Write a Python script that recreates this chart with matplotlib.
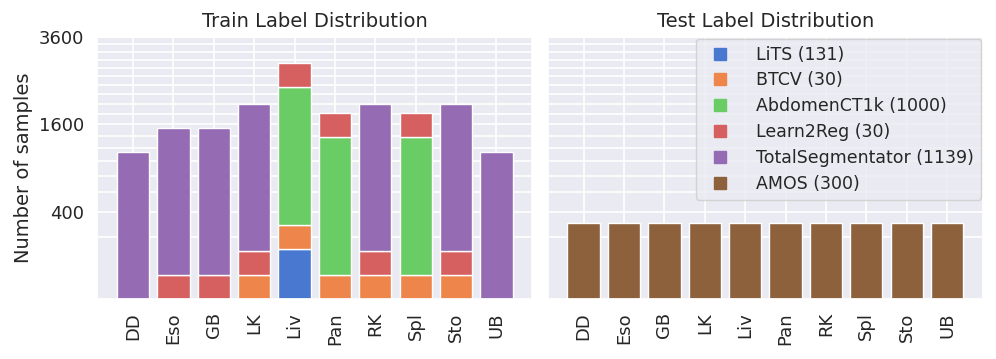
import numpy as np
import matplotlib.pyplot as plt
import seaborn as sns
from matplotlib.lines import Line2D

# ---- data ----
organs = ["DD", "Eso", "GB", "LK", "Liv", "Pan", "RK", "Spl", "Sto", "UB"]
dataset_names = ["LiTS", "BTCV", "AbdomenCT1k", "Learn2Reg", "TotalSegmentator", "AMOS"]
dataset_sizes = [131, 30, 1000, 30, 1139, 300]

train_lits = [0, 0, 0, 0, 131, 0, 0, 0, 0, 0]
train_btcv = [0, 0, 0, 30, 30, 30, 30, 30, 30, 0]
train_abdomen = [0, 0, 0, 0, 1000, 1000, 0, 1000, 0, 0]
train_l2r = [0, 30, 30, 30, 30, 30, 30, 30, 30, 0]
train_ts = [1139, 1139, 1139, 1139, 0, 0, 1139, 0, 1139, 1139]
test_amos = [300, 300, 300, 300, 300, 300, 300, 300, 300, 300]

train_series = [train_lits, train_btcv, train_abdomen, train_l2r, train_ts]
major_ticks = [400, 1600, 3600]

sns.set_theme(style="darkgrid")
colors = sns.color_palette("muted")
ds_colors = [colors[0], colors[1], colors[2], colors[3], colors[4], colors[5]]

fig, (ax1, ax2) = plt.subplots(1, 2, figsize=(9.96, 3.59), dpi=100, sharey=True)
fig.subplots_adjust(left=0.0974, right=0.987, top=0.897, bottom=0.167, wspace=0.035)

x = np.arange(len(organs))


def stacked(ax, series, cols):
    # values are drawn on a square-root axis, segments stacked in sqrt space
    bottom = np.zeros(len(organs))
    for vals, c in zip(series, cols):
        h = np.sqrt(np.array(vals, dtype=float))
        m = h > 0
        ax.bar(x[m], h[m], bottom=bottom[m], width=0.8, color=c,
               edgecolor="white", linewidth=1, zorder=2)
        bottom += h


stacked(ax1, train_series, ds_colors[:5])
stacked(ax2, [test_amos], [ds_colors[5]])

for ax, title in ((ax1, "Train Label Distribution"), (ax2, "Test Label Distribution")):
    ax.set_title(title, fontsize=14, pad=7)
    ax.set_xticks(x)
    ax.set_xticklabels(organs, rotation=90, fontsize=13)
    ax.set_ylim(0, 60)
    ax.set_yticks(np.sqrt(major_ticks))
    ax.set_yticks(np.sqrt(np.arange(200, 3601, 200)), minor=True)
    ax.grid(which="both", color="white", linewidth=1.2)
    ax.tick_params(axis="y", which="minor", length=0)

ax1.set_yticklabels([str(v) for v in major_ticks], fontsize=13)
ax1.set_ylabel("Number of samples", fontsize=14)
ax2.tick_params(axis="y", labelleft=False)

handles = [Line2D([0], [0], marker="s", linestyle="none", markersize=9,
                  color=c) for c in ds_colors]
labels = [f"{n} ({s})" for n, s in zip(dataset_names, dataset_sizes)]
ax2.legend(handles, labels, loc="upper right", fontsize=12.5, borderaxespad=0.1,
           handletextpad=1.1, labelspacing=0.45)

fig.savefig("out.png", dpi=100)
